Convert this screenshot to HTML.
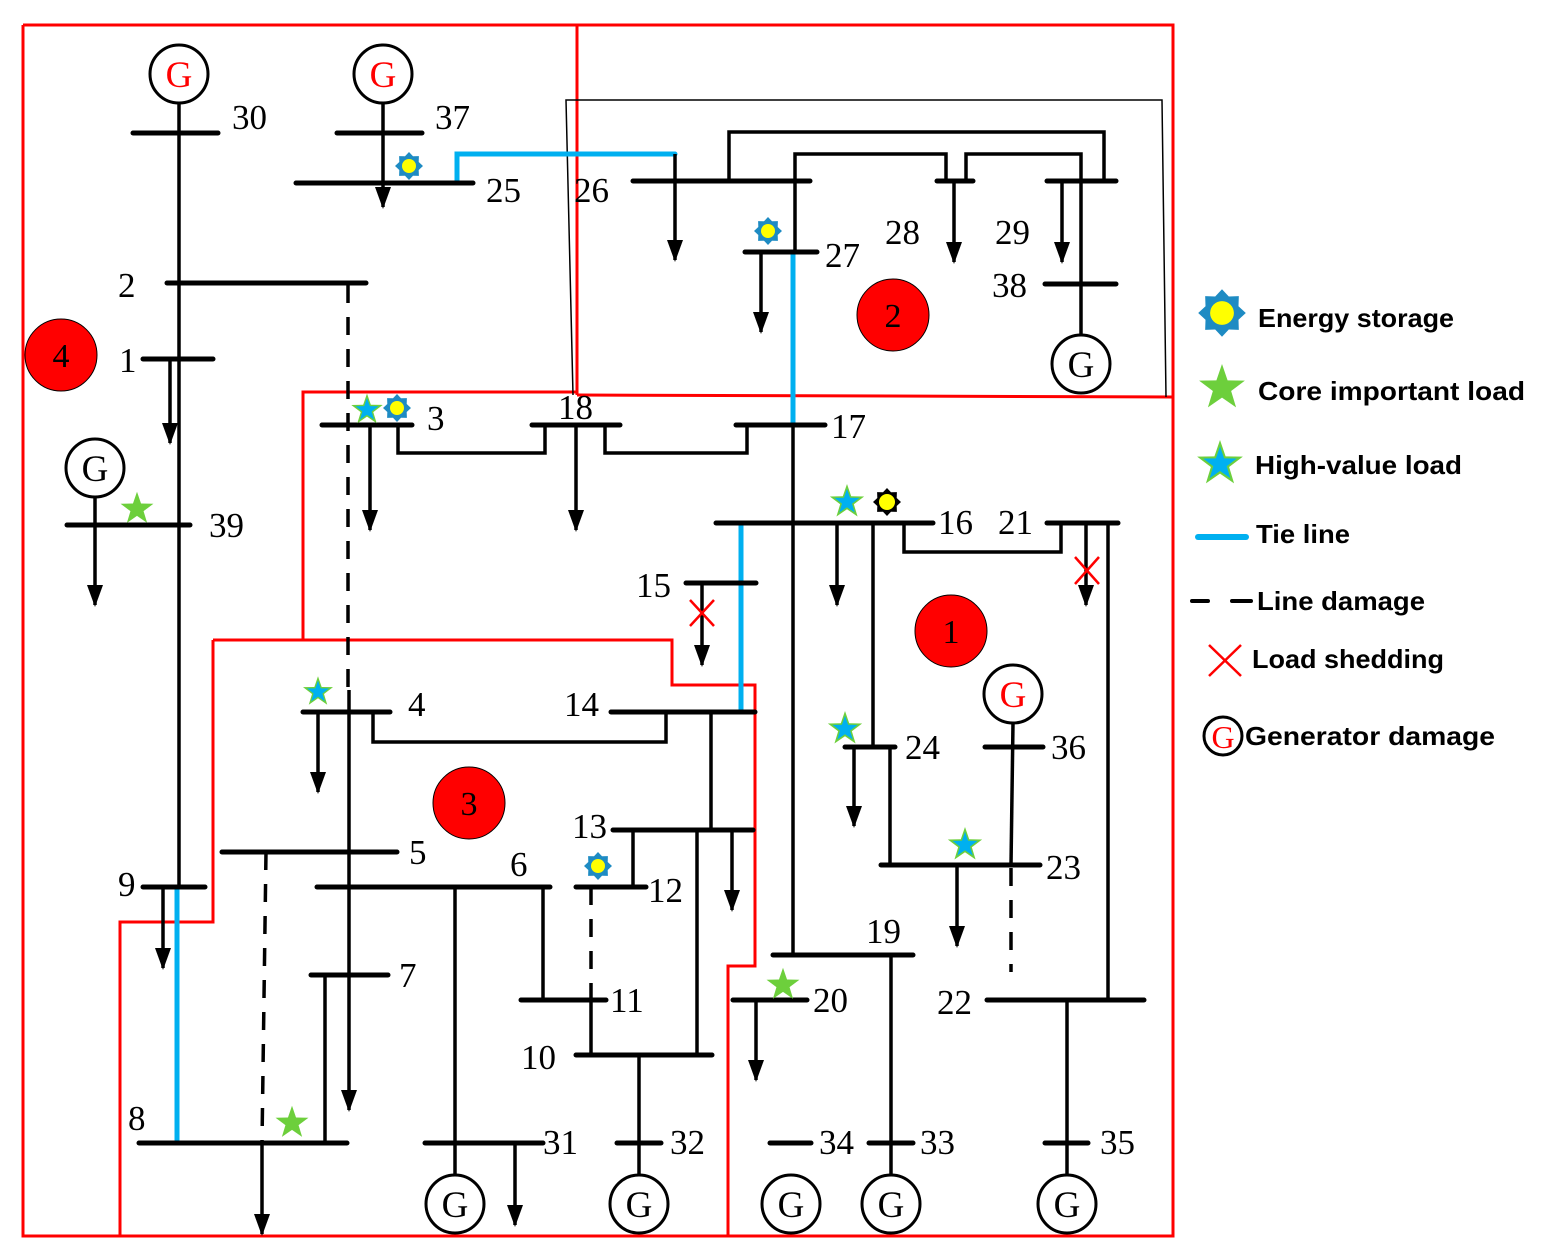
<!DOCTYPE html>
<html><head><meta charset="utf-8"><style>
html,body{margin:0;padding:0;background:#fff;}
svg{display:block;}
.b{stroke:#000;stroke-width:5;stroke-linecap:round;}
.l{stroke:#000;stroke-width:3.5;fill:none;}
.d{stroke:#000;stroke-width:3.5;fill:none;stroke-dasharray:18,14;}
.t{stroke:#00b0f0;stroke-width:5;fill:none;stroke-linecap:round;}
.r{stroke:#ff0000;stroke-width:3;fill:none;}
.n{font-family:"Liberation Serif",serif;font-size:35px;fill:#000;}
.g{font-family:"Liberation Serif",serif;font-size:37px;text-anchor:middle;}
.lg{font-family:"Liberation Sans",sans-serif;font-weight:bold;font-size:26px;fill:#000;}
.c{font-family:"Liberation Serif",serif;font-size:34px;text-anchor:middle;fill:#000;}
</style></head><body>
<svg width="1544" height="1255" viewBox="0 0 1544 1255" xmlns="http://www.w3.org/2000/svg">
<defs>
<marker id="ar" viewBox="0 0 22 16" refX="20" refY="8" markerWidth="22" markerHeight="16" markerUnits="userSpaceOnUse" orient="auto">
<path d="M0,0 L22,8 L0,16 Z" fill="#000"/>
</marker>
<g id="es"><polygon points="0,-14 4,-9.7 9.9,-9.9 9.7,-4 14,0 9.7,4 9.9,9.9 4,9.7 0,14 -4,9.7 -9.9,9.9 -9.7,4 -14,0 -9.7,-4 -9.9,-9.9 -4,-9.7" fill="#1e8bc3"/><circle r="7" fill="#ffff00"/></g>
<g id="esk"><polygon points="0,-14 4,-9.7 9.9,-9.9 9.7,-4 14,0 9.7,4 9.9,9.9 4,9.7 0,14 -4,9.7 -9.9,9.9 -9.7,4 -14,0 -9.7,-4 -9.9,-9.9 -4,-9.7" fill="#000"/><circle r="8" fill="#ffff00"/></g>
<polygon id="sg" points="0,-15 3.5,-4.8 14.3,-4.6 5.7,1.9 8.8,12.1 0,6 -8.8,12.1 -5.7,1.9 -14.3,-4.6 -3.5,-4.8" fill="#6dcf3c"/>
<g id="sb"><polygon points="0,-15 3.5,-4.8 14.3,-4.6 5.7,1.9 8.8,12.1 0,6 -8.8,12.1 -5.7,1.9 -14.3,-4.6 -3.5,-4.8" fill="#6dcf3c"/><polygon points="0,-11 2.6,-3.5 10.5,-3.4 4.2,1.4 6.5,8.9 0,4.4 -6.5,8.9 -4.2,1.4 -10.5,-3.4 -2.6,-3.5" fill="#00b0f0"/></g>
</defs>

<polyline class="r" points="23,25 1173,25 1173,1236 23,1236 23,25"/>
<line class="r" x1="577" y1="25" x2="577" y2="395"/>
<line class="r" x1="577" y1="395" x2="1173" y2="397"/>
<polyline class="r" points="303,640 303,392 577,392"/>
<polyline class="r" points="213,640 672,640 672,685 755,685 755,966 728,966 728,1236"/>
<polyline class="r" points="213,640 213,922 120,922 120,1236"/>
<polyline stroke="#000" stroke-width="1.5" fill="none" points="573,395 566,100 1162,100 1166,397"/>

<circle cx="61" cy="355" r="36" fill="#ff0000" stroke="#000" stroke-width="1"/><text class="c" x="61" y="367">4</text>
<circle cx="893" cy="315" r="36" fill="#ff0000" stroke="#000" stroke-width="1"/><text class="c" x="893" y="327">2</text>
<circle cx="951" cy="631" r="36" fill="#ff0000" stroke="#000" stroke-width="1"/><text class="c" x="951" y="643">1</text>
<circle cx="469" cy="803" r="36" fill="#ff0000" stroke="#000" stroke-width="1"/><text class="c" x="469" y="815">3</text>

<line class="l" x1="179" y1="104" x2="179" y2="887"/>
<line class="l" x1="383" y1="104" x2="383" y2="207" marker-end="url(#ar)"/>
<polyline class="t" points="457,183 457,154 675,154"/>
<line class="l" x1="675" y1="154" x2="675" y2="260" marker-end="url(#ar)"/>
<polyline class="l" points="729,181 729,132 1104,132 1104,181"/>
<polyline class="l" points="795,252 795,154 946,154 946,181"/>
<polyline class="l" points="966,181 966,154 1081,154 1081,335"/>
<line class="l" x1="954" y1="181" x2="954" y2="262" marker-end="url(#ar)"/>
<line class="l" x1="1062" y1="181" x2="1062" y2="262" marker-end="url(#ar)"/>
<line class="l" x1="761" y1="252" x2="761" y2="332" marker-end="url(#ar)"/>
<line class="t" x1="793" y1="254" x2="793" y2="423"/>
<line class="l" x1="793" y1="425" x2="793" y2="955"/>
<line class="d" x1="348" y1="285" x2="348" y2="700"/>
<line class="l" x1="349" y1="690" x2="349" y2="1110" marker-end="url(#ar)"/>
<line class="l" x1="170" y1="359" x2="170" y2="443" marker-end="url(#ar)"/>
<line class="l" x1="95" y1="497" x2="95" y2="605" marker-end="url(#ar)"/>
<line class="l" x1="370" y1="425" x2="370" y2="530" marker-end="url(#ar)"/>
<polyline class="l" points="398,425 398,453 545,453 545,425"/>
<line class="l" x1="576" y1="425" x2="576" y2="530" marker-end="url(#ar)"/>
<polyline class="l" points="605,425 605,453 747,453 747,425"/>
<line class="l" x1="837" y1="523" x2="837" y2="605" marker-end="url(#ar)"/>
<line class="l" x1="873" y1="523" x2="873" y2="747"/>
<polyline class="l" points="904,523 904,552 1061,552 1061,523"/>
<line class="t" x1="741" y1="523" x2="741" y2="710"/>
<line class="l" x1="1086" y1="523" x2="1086" y2="605" marker-end="url(#ar)"/>
<line class="l" x1="1108" y1="523" x2="1108" y2="1000"/>
<line class="l" x1="702" y1="583" x2="702" y2="665" marker-end="url(#ar)"/>
<line class="l" x1="318" y1="712" x2="318" y2="792" marker-end="url(#ar)"/>
<polyline class="l" points="373,712 373,742 666,742 666,712"/>
<line class="l" x1="711" y1="712" x2="711" y2="830"/>
<line class="l" x1="633" y1="830" x2="633" y2="887"/>
<line class="l" x1="732" y1="830" x2="732" y2="910" marker-end="url(#ar)"/>
<line class="l" x1="697" y1="830" x2="697" y2="1055"/>
<line class="d" x1="266" y1="852" x2="262" y2="1143"/>
<line class="l" x1="455" y1="887" x2="455" y2="1175"/>
<line class="l" x1="543" y1="887" x2="543" y2="1000"/>
<line class="d" x1="591" y1="887" x2="591" y2="1000"/>
<line class="l" x1="591" y1="1000" x2="591" y2="1055"/>
<line class="l" x1="163" y1="887" x2="163" y2="968" marker-end="url(#ar)"/>
<line class="l" x1="325" y1="975" x2="325" y2="1143"/>
<line class="l" x1="639" y1="1055" x2="639" y2="1175"/>
<line class="t" x1="177" y1="887" x2="177" y2="1140"/>
<line class="l" x1="262" y1="1143" x2="262" y2="1234" marker-end="url(#ar)"/>
<line class="l" x1="515" y1="1143" x2="515" y2="1225" marker-end="url(#ar)"/>
<line class="l" x1="891" y1="955" x2="891" y2="1175"/>
<line class="l" x1="756" y1="1000" x2="756" y2="1080" marker-end="url(#ar)"/>
<line class="l" x1="854" y1="747" x2="854" y2="826" marker-end="url(#ar)"/>
<line class="l" x1="890" y1="747" x2="890" y2="865"/>
<line class="l" x1="957" y1="865" x2="957" y2="946" marker-end="url(#ar)"/>
<line class="l" x1="1013" y1="723" x2="1011" y2="865"/>
<line class="d" x1="1011" y1="868" x2="1011" y2="972"/>
<line class="l" x1="1067" y1="1000" x2="1067" y2="1175"/>

<g class="b">
<line x1="133" y1="133" x2="218" y2="133"/>
<line x1="337" y1="133" x2="422" y2="133"/>
<line x1="296" y1="183" x2="473" y2="183"/>
<line x1="633" y1="181" x2="810" y2="181"/>
<line x1="937" y1="181" x2="973" y2="181"/>
<line x1="1047" y1="181" x2="1116" y2="181"/>
<line x1="1045" y1="284" x2="1116" y2="284"/>
<line x1="745" y1="252" x2="817" y2="252"/>
<line x1="167" y1="283" x2="366" y2="283"/>
<line x1="143" y1="359" x2="213" y2="359"/>
<line x1="67" y1="525" x2="190" y2="525"/>
<line x1="322" y1="425" x2="412" y2="425"/>
<line x1="532" y1="425" x2="620" y2="425"/>
<line x1="736" y1="425" x2="825" y2="425"/>
<line x1="716" y1="523" x2="933" y2="523"/>
<line x1="1047" y1="523" x2="1118" y2="523"/>
<line x1="686" y1="583" x2="756" y2="583"/>
<line x1="303" y1="712" x2="390" y2="712"/>
<line x1="611" y1="712" x2="755" y2="712"/>
<line x1="613" y1="830" x2="753" y2="830"/>
<line x1="222" y1="852" x2="397" y2="852"/>
<line x1="317" y1="887" x2="550" y2="887"/>
<line x1="576" y1="887" x2="646" y2="887"/>
<line x1="143" y1="887" x2="205" y2="887"/>
<line x1="311" y1="975" x2="388" y2="975"/>
<line x1="521" y1="1000" x2="606" y2="1000"/>
<line x1="576" y1="1055" x2="712" y2="1055"/>
<line x1="139" y1="1143" x2="347" y2="1143"/>
<line x1="425" y1="1143" x2="543" y2="1143"/>
<line x1="617" y1="1143" x2="661" y2="1143"/>
<line x1="773" y1="955" x2="913" y2="955"/>
<line x1="733" y1="1000" x2="807" y2="1000"/>
<line x1="845" y1="747" x2="895" y2="747"/>
<line x1="881" y1="865" x2="1040" y2="865"/>
<line x1="985" y1="747" x2="1043" y2="747"/>
<line x1="987" y1="1000" x2="1144" y2="1000"/>
<line x1="770" y1="1143" x2="811" y2="1143"/>
<line x1="869" y1="1143" x2="913" y2="1143"/>
<line x1="1045" y1="1143" x2="1088" y2="1143"/>
</g>

<g fill="#fff" stroke="#000" stroke-width="3">
<circle cx="179" cy="74" r="29"/><circle cx="383" cy="74" r="29"/>
<circle cx="1081" cy="364" r="29"/><circle cx="95" cy="468" r="29"/>
<circle cx="1013" cy="694" r="29"/>
<circle cx="455" cy="1204" r="29"/><circle cx="639" cy="1204" r="29"/>
<circle cx="791" cy="1204" r="29"/><circle cx="891" cy="1204" r="29"/>
<circle cx="1067" cy="1204" r="29"/>
</g>
<text class="g" x="179" y="87" fill="#ff0000">G</text>
<text class="g" x="383" y="87" fill="#ff0000">G</text>
<text class="g" x="1013" y="707" fill="#ff0000">G</text>
<text class="g" x="1081" y="377" fill="#000">G</text>
<text class="g" x="95" y="481" fill="#000">G</text>
<text class="g" x="455" y="1217" fill="#000">G</text>
<text class="g" x="639" y="1217" fill="#000">G</text>
<text class="g" x="791" y="1217" fill="#000">G</text>
<text class="g" x="891" y="1217" fill="#000">G</text>
<text class="g" x="1067" y="1217" fill="#000">G</text>

<use href="#es" x="409" y="166"/>
<use href="#es" x="768" y="231"/>
<use href="#es" x="397" y="408"/>
<use href="#es" x="598" y="866"/>
<use href="#esk" x="887" y="502"/>
<use href="#sb" transform="translate(367,410) scale(1.1)"/>
<use href="#sb" transform="translate(847,502) scale(1.2)"/>
<use href="#sb" transform="translate(318,692) scale(1.05)"/>
<use href="#sb" transform="translate(845,729) scale(1.2)"/>
<use href="#sb" transform="translate(965,845) scale(1.2)"/>
<use href="#sg" transform="translate(137,509) scale(1.15)"/>
<use href="#sg" transform="translate(292,1123) scale(1.15)"/>
<use href="#sg" transform="translate(783,985) scale(1.15)"/>
<g stroke="#ff0000" stroke-width="2.5">
<line x1="690" y1="600" x2="714" y2="626"/><line x1="714" y1="600" x2="690" y2="626"/>
<line x1="1075" y1="557" x2="1099" y2="584"/><line x1="1099" y1="557" x2="1075" y2="584"/>
</g>

<g class="n">
<text x="232" y="129">30</text><text x="435" y="129">37</text>
<text x="486" y="202">25</text><text x="574" y="202">26</text>
<text x="825" y="267">27</text><text x="885" y="244">28</text>
<text x="995" y="244">29</text><text x="992" y="297">38</text>
<text x="118" y="297">2</text><text x="119" y="372">1</text>
<text x="209" y="537">39</text><text x="427" y="430">3</text>
<text x="558" y="419">18</text><text x="831" y="438">17</text>
<text x="938" y="534">16</text><text x="998" y="534">21</text>
<text x="636" y="597">15</text><text x="408" y="716">4</text>
<text x="564" y="716">14</text><text x="572" y="838">13</text>
<text x="409" y="864">5</text><text x="510" y="876">6</text>
<text x="648" y="902">12</text><text x="118" y="896">9</text>
<text x="399" y="987">7</text><text x="610" y="1012">11</text>
<text x="521" y="1069">10</text><text x="128" y="1130">8</text>
<text x="543" y="1154">31</text><text x="670" y="1154">32</text>
<text x="866" y="943">19</text><text x="813" y="1012">20</text>
<text x="905" y="759">24</text><text x="1046" y="879">23</text>
<text x="1051" y="759">36</text><text x="937" y="1014">22</text>
<text x="819" y="1154">34</text><text x="920" y="1154">33</text>
<text x="1100" y="1154">35</text>
</g>

<use href="#es" transform="translate(1222,313) scale(1.7)"/>
<text class="lg" x="1258" y="327" textLength="196" lengthAdjust="spacingAndGlyphs">Energy storage</text>
<use href="#sg" transform="translate(1222,388) scale(1.6)"/>
<text class="lg" x="1258" y="400" textLength="267" lengthAdjust="spacingAndGlyphs">Core important load</text>
<use href="#sb" transform="translate(1220,464) scale(1.6)"/>
<text class="lg" x="1255" y="474" textLength="207" lengthAdjust="spacingAndGlyphs">High-value load</text>
<line x1="1198" y1="537" x2="1246" y2="537" stroke="#00b0f0" stroke-width="6" stroke-linecap="round"/>
<text class="lg" x="1256" y="543" textLength="94" lengthAdjust="spacingAndGlyphs">Tie line</text>
<line x1="1192" y1="601" x2="1208" y2="601" stroke="#000" stroke-width="4" stroke-linecap="round"/>
<line x1="1232" y1="601" x2="1251" y2="601" stroke="#000" stroke-width="4" stroke-linecap="round"/>
<text class="lg" x="1257" y="610" textLength="168" lengthAdjust="spacingAndGlyphs">Line damage</text>
<line x1="1209" y1="645" x2="1241" y2="676" stroke="#ff0000" stroke-width="2.5"/>
<line x1="1241" y1="645" x2="1209" y2="676" stroke="#ff0000" stroke-width="2.5"/>
<text class="lg" x="1252" y="668" textLength="192" lengthAdjust="spacingAndGlyphs">Load shedding</text>
<circle cx="1223" cy="736" r="19" fill="#fff" stroke="#000" stroke-width="3"/>
<text x="1223" y="748" font-family="Liberation Serif,serif" font-size="32" text-anchor="middle" fill="#ff0000">G</text>
<text class="lg" x="1245" y="745" textLength="250" lengthAdjust="spacingAndGlyphs">Generator damage</text>
</svg>
</body></html>
